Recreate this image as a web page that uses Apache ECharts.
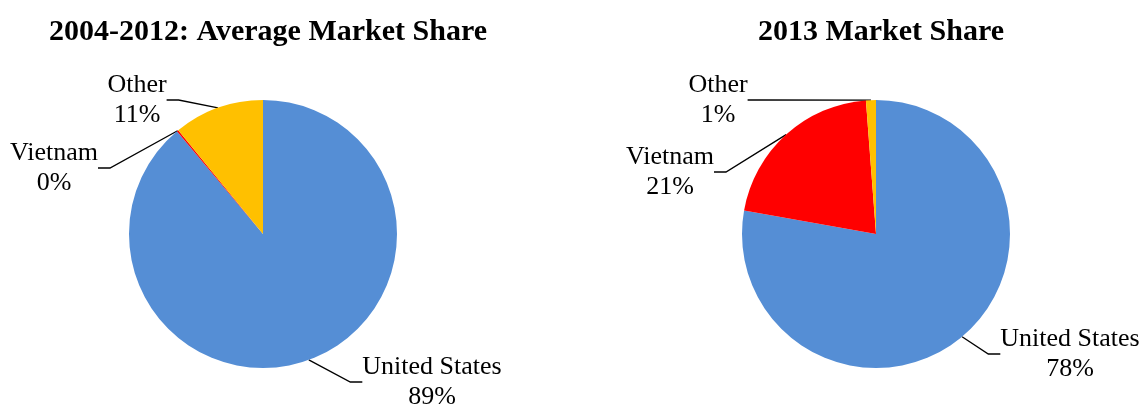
<!DOCTYPE html>
<html>
<head>
<meta charset="utf-8">
<script src="https://cdn.jsdelivr.net/npm/echarts@6/dist/echarts.min.js"></script>
<style>
  html, body { margin: 0; padding: 0; background: #fff; }
  #chart { width: 1142px; height: 407px; }
</style>
</head>
<body>
<div id="chart"></div>
<script>
const categories = ['United States', 'Vietnam', 'Other']
const avgShare = [88.9, 0.2, 10.9]
const share2013 = [77.8, 21.0, 1.2]
const titles = ['2004-2012: Average Market Share', '2013 Market Share']

const colors = ['#558ED5', '#FF0000', '#FFC000']
const font = "'Liberation Serif', 'Times New Roman', serif"

// label block centres, one per slice
const labelPos = [
  [[432, 382], [54, 168], [137, 100]],
  [[1070, 354], [670, 172], [718, 100]]
]

const chart = echarts.init(document.getElementById('chart'))

const makePie = (idx, values, cx) => ({
  type: 'pie',
  center: [cx, 234],
  radius: 134,
  startAngle: 90,
  clockwise: true,
  percentPrecision: 0,
  animation: false,
  silent: true,
  data: categories.map((c, i) => ({
    name: c,
    value: values[i],
    itemStyle: { color: colors[i] }
  })),
  label: {
    show: true,
    position: 'outside',
    formatter: '{b}\n{d}%',
    fontFamily: font,
    fontSize: 26,
    lineHeight: 30,
    color: '#000',
    align: 'center'
  },
  labelLine: {
    show: true,
    length: 20,
    length2: 12,
    lineStyle: { color: '#000', width: 1.3 }
  },
  labelLayout: (p) => {
    const pos = labelPos[idx][p.dataIndex]
    return {
      x: pos[0],
      y: pos[1],
      align: 'center',
      verticalAlign: 'middle'
    }
  }
})

chart.setOption({
  backgroundColor: '#fff',
  title: [
    {
      text: titles[0],
      left: 263,
      top: 12,
      textAlign: 'center',
      textStyle: { fontFamily: font, fontSize: 30, fontWeight: 'bold', color: '#000' }
    },
    {
      text: titles[1],
      left: 876,
      top: 12,
      textAlign: 'center',
      textStyle: { fontFamily: font, fontSize: 30, fontWeight: 'bold', color: '#000' }
    }
  ],
  series: [
    makePie(0, avgShare, 263),
    makePie(1, share2013, 876)
  ]
})
</script>
</body>
</html>
